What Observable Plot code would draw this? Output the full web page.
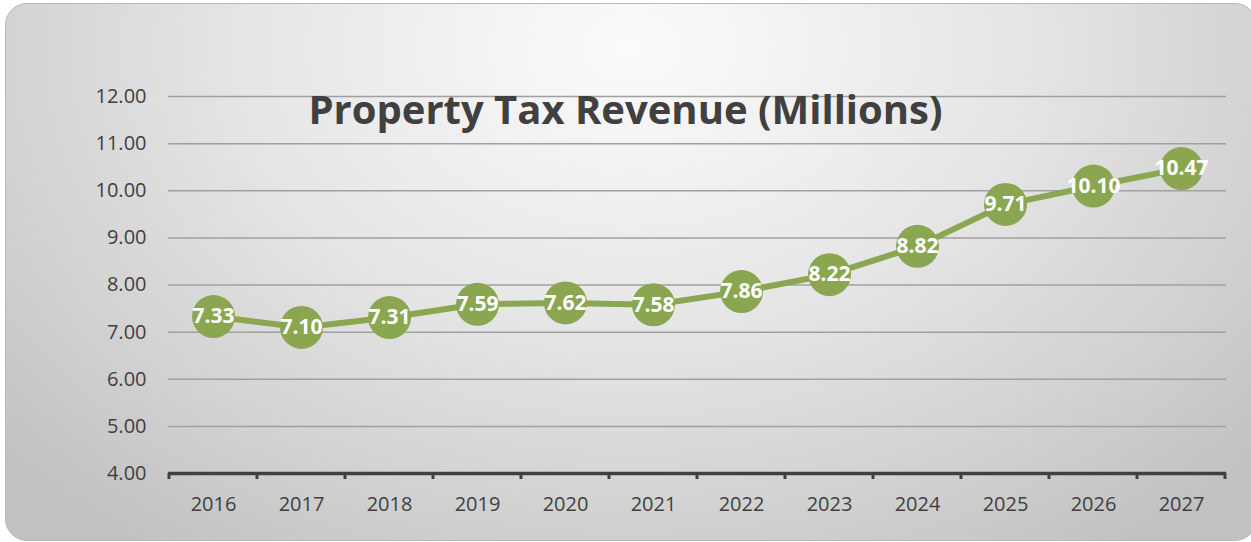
<!DOCTYPE html>
<html>
<head>
<meta charset="utf-8">
<script src="https://cdn.jsdelivr.net/npm/d3@7"></script>
<script src="https://cdn.jsdelivr.net/npm/@observablehq/plot@0.6"></script>
<style>
  html, body { margin: 0; padding: 0; width: 1251px; height: 542px; overflow: hidden; background: #ffffff; }
  #card {
    position: absolute; left: 5px; top: 3px; width: 1252px; height: 538px;
    border-radius: 22px; border: 1px solid #b9b9b9; box-sizing: border-box;
    background: radial-gradient(ellipse 68% 115% at 50% 8%, #fbfbfb 0%, #e6e6e6 45%, #cfcfcf 80%, #c1c1c1 100%);
  }
  #chart { position: absolute; left: 0; top: 0; }
</style>
</head>
<body>
<div id="card"></div>
<div id="chart"></div>
<script>
const title = "Property Tax Revenue (Millions)";
const years = ["2016","2017","2018","2019","2020","2021","2022","2023","2024","2025","2026","2027"];
const values = [7.33, 7.10, 7.31, 7.59, 7.62, 7.58, 7.86, 8.22, 8.82, 9.71, 10.10, 10.47];
const yTicks = [4, 5, 6, 7, 8, 9, 10, 11, 12];

const data = years.map((year, i) => ({year, value: values[i]}));
const green = "#8BA650";
const ink = "#404040";

// category boundary tick marks (Excel-style, between categories)
function boundaryTicks(index, scales, values, dimensions) {
  const x = scales.x, y = scales.y;
  const step = x(years[1]) - x(years[0]);
  const xs = years.map(d => x(d)).concat([x(years[years.length - 1]) + step]);
  const y0 = y(yTicks[0]);
  const g = d3.create("svg:g");
  g.selectAll("line").data(xs).join("line")
    .attr("x1", d => d).attr("x2", d => d)
    .attr("y1", y0).attr("y2", y0 + 6)
    .attr("stroke", ink).attr("stroke-width", 3);
  return g.node();
}

const plot = Plot.plot({
  width: 1251,
  height: 542,
  marginLeft: 168,
  marginRight: 25,
  marginTop: 96,
  marginBottom: 69,
  style: {background: "transparent", fontFamily: "'Open Sans', sans-serif", color: ink},
  x: {type: "band", domain: years, padding: 0, label: null},
  y: {domain: [4, 12], label: null},
  marks: [
    Plot.gridY(yTicks.slice(1), {stroke: "#a0a0a0", strokeOpacity: 1, strokeWidth: 1.5}),
    Plot.axisY(yTicks, {tickSize: 0, tickPadding: 22, tickFormat: d => d.toFixed(2), fontSize: 20, fill: ink, label: null}),
    Plot.axisX({tickSize: 0, tickPadding: 23, fontSize: 20, fill: ink, label: null}),
    Plot.ruleY([4], {stroke: ink, strokeWidth: 3.5}),
    boundaryTicks,
    Plot.line(data, {x: "year", y: "value", stroke: green, strokeWidth: 6}),
    Plot.dot(data, {x: "year", y: "value", r: 21.5, fill: green, stroke: null}),
    Plot.text(data, {x: "year", y: "value", text: d => d.value.toFixed(2), fill: "white", fontWeight: "bold", fontSize: 21}),
    Plot.text([title], {frameAnchor: "top", dx: -72, dy: -1, text: d => d, fontSize: 40, fontWeight: "bold", fill: ink})
  ]
});
document.getElementById("chart").appendChild(plot);
</script>
</body>
</html>
